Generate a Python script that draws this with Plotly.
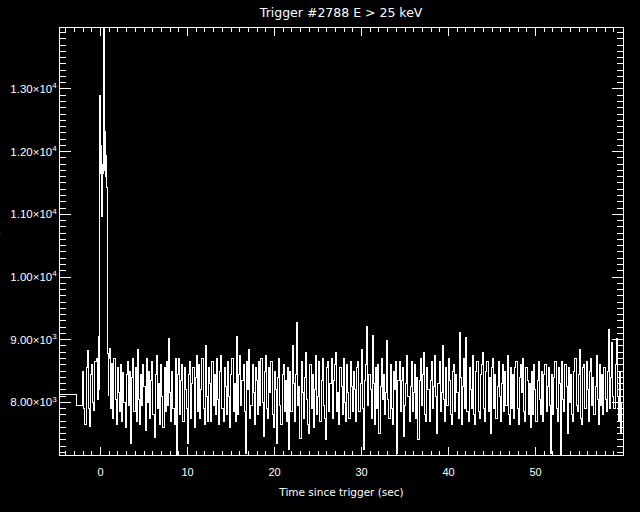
import numpy as np
import plotly.graph_objects as go

# --- data ---
title_text = "Trigger #2788 E > 25 keV"
x_title = "Time since trigger (sec)"
y_title = "Counts/sec"

# pre-trigger coarse bins (start times, counts)
pre_times = [-4.9, -2.8]
pre_counts = [8128, 7952]

# 0.128 s bins before the burst (start at -2.048 s)
prebin_counts = [8490, 7900, 7640, 8550, 8830, 7900, 7610, 8450, 8600, 8000, 7870, 8650, 8700, 8050]

# 64 ms bins covering the burst (start at -0.256 s)
burst_counts = [8300, 9050, 8200, 12900, 11650, 12100, 10960, 11800, 11650, 12000,
                13970, 11700, 12316, 11600, 11944, 11426, 10032, 8786, 8116, 8700]

# 0.128 s bins after the burst (start at 1.024 s)
post_counts = [
    8860, 7900, 8620, 7750, 8700, 8050, 7650, 8550, 8150, 7850, 8600, 7700, 8480, 8000, 7600, 8450, 8650, 7950, 8500, 7340,
    8400, 8700, 7850, 8560, 7700, 8850, 8050, 7650, 8450, 7950, 8600, 8250, 7550, 8700, 8000, 8500, 7750, 8350, 8650, 7800,
    7440, 8450, 8750, 7900, 8300, 7650, 8600, 8100, 7600, 8550, 7850, 8650, 7950, 9020, 8150, 7700, 8500, 7900, 7650, 8700,
    7160, 8450, 8700, 7800, 8350, 8600, 7700, 8550, 8200, 7900, 7350, 8450, 8650, 7750, 8300, 8550, 7600, 8400, 8750, 7850,
    8600, 7750, 8200, 8700, 7900, 7650, 8900, 8100, 7700, 8560, 8300, 7700, 8650, 7950, 8450, 7800, 8700, 8050, 7650, 8500,
    8750, 7900, 7700, 8550, 8250, 7800, 8650, 8100, 7600, 8450, 8700, 7850, 8300, 7700, 9050, 7800, 8450, 8750, 7950, 8350,
    8600, 7850, 7180, 8650, 8200, 8850, 7750, 7950, 8600, 8150, 7650, 8550, 8350, 7800, 8650, 7950, 8700, 8000, 7450, 8500,
    8750, 7900, 7750, 8550, 8150, 8650, 7800, 7600, 8500, 8200, 7350, 8400, 8700, 7950, 7650, 8450, 8600, 7850, 8350, 7700,
    8550, 7240, 8500, 7850, 8900, 8300, 7700, 8450, 9282, 7950, 8250, 7420, 8650, 8150, 7750, 8400, 8800, 8050, 7650, 7500,
    8600, 7900, 8450, 7600, 8200, 8750, 7800, 8100, 8650, 7700, 8350, 8700, 7950, 7750, 7400, 8550, 8650, 7850, 8300, 8700,
    7750, 8350, 8600, 8800, 7850, 8150, 7650, 8550, 8250, 7800, 8700, 8000, 7700, 8600, 8150, 7750, 8650, 8250, 7850, 8500,
    8200, 7700, 8550, 8650, 7850, 8300, 8850, 7900, 7240, 8350, 8600, 9217, 7950, 8450, 8200, 7750, 9070, 8300, 7650, 8550,
    7900, 8600, 7500, 8250, 8700, 8050, 8450, 7800, 8150, 8990, 8050, 7750, 8600, 7900, 7650, 8500, 8200, 8650, 7190, 8350,
    8650, 7850, 8350, 8550, 7450, 7950, 8300, 8750, 8100, 7700, 8250, 8650, 7850, 8150, 8600, 7750, 8400, 7400, 8350, 8700,
    7950, 8450, 8800, 7800, 7700, 8550, 8200, 7700, 8350, 8650, 7900, 8250, 8750, 8100, 7500, 8300, 8650, 7850, 8150, 8900,
    8050, 7700, 8550, 7950, 8700, 8350, 7800, 7650, 8500, 8600, 7850, 8450, 8150, 7750, 9120, 8400, 7650, 8250, 8700, 7900,
    9030, 7850, 7700, 8550, 8200, 7900, 8750, 7800, 7650, 8500, 8650, 7850, 7750, 8450, 8600, 8800, 7900, 7700, 8500, 8650,
    7850, 8400, 7500, 8550, 8700, 7900, 8450, 7750, 8250, 8650, 8100, 7700, 8300, 8600, 7850, 8500, 7950, 8750, 7800, 7650,
    8550, 7900, 8450, 7750, 8550, 8650, 7900, 7650, 8400, 8600, 8150, 8700, 7850, 7700, 8550, 8350, 7800, 8300, 7600, 8500,
    7800, 8600, 8200, 7700, 8350, 8650, 8050, 7800, 8500, 7700, 8450, 8600, 7850, 8250, 8550, 7950, 7190, 8450, 7800, 8400,
    8650, 7900, 7700, 8550, 8300, 7160, 8650, 8050, 7850, 8600, 8250, 7500, 8550, 8000, 8450, 7800, 7700, 8500, 8700, 7950,
    7850, 8450, 8850, 7750, 7650, 8550, 8600, 7900, 8650, 8200, 7700, 8500, 8700, 7950, 8400, 7800, 8250, 8750, 8050, 7650,
    8600, 7950, 8450, 7800, 8550, 8050, 7850, 8500, 9160, 7900, 8400, 8950, 8100, 7900, 8600, 9025, 8100, 7700, 8500, 7500,
    8000,
]

x_tick_vals = [0, 10, 20, 30, 40, 50]
y_tick_vals = [8000, 9000, 10000, 11000, 12000, 13000]
y_tick_text = ["8.00×10<sup>3</sup>", "9.00×10<sup>3</sup>", "1.00×10<sup>4</sup>",
               "1.10×10<sup>4</sup>", "1.20×10<sup>4</sup>", "1.30×10<sup>4</sup>"]
x_range = [-4.66, 60.05]
y_range = [7160, 13973]

# --- assemble bin start times ---
prebin_times = list(-2.048 + 0.128 * np.arange(len(prebin_counts)))
burst_times = list(-0.256 + 0.064 * np.arange(len(burst_counts)))
post_times = list(1.024 + 0.128 * np.arange(len(post_counts)))

t = pre_times + prebin_times + burst_times + post_times
c = pre_counts + prebin_counts + burst_counts + post_counts
t.append(post_times[-1] + 0.128)
c.append(post_counts[-1])

FONT = "DejaVu Sans"
TICKFONT = "Liberation Sans"

fig = go.Figure()
fig.add_trace(go.Scatter(x=t, y=c, mode="lines", line=dict(color="white", width=1, shape="hv"),
                         showlegend=False, hoverinfo="skip"))

fig.update_layout(
    width=640, height=512,
    paper_bgcolor="black", plot_bgcolor="black",
    margin=dict(l=60, r=17, t=28, b=57, autoexpand=False),
    font=dict(family=FONT, color="white", size=11),
    title=dict(text=title_text, x=0.533, xanchor="center", y=0.975, yanchor="middle",
               font=dict(family=FONT, size=12.5, color="white")),
)
fig.update_xaxes(
    range=x_range, showgrid=False, zeroline=False, automargin=False,
    showline=True, linecolor="white", linewidth=1, mirror="allticks",
    ticks="inside", ticklen=8, tickwidth=1, tickcolor="white",
    tickvals=x_tick_vals, ticktext=[str(v) for v in x_tick_vals],
    tickfont=dict(family=TICKFONT, size=11, color="white"), ticklabelstandoff=7,
    minor=dict(dtick=1, tick0=0, ticks="inside", ticklen=4, tickcolor="white", showgrid=False),
    title=dict(text=x_title, font=dict(family=FONT, size=10.5, color="white"), standoff=11),
)
fig.update_yaxes(
    range=y_range, showgrid=False, zeroline=False, automargin=False,
    showline=True, linecolor="white", linewidth=1, mirror="allticks",
    ticks="inside", ticklen=11, tickwidth=1, tickcolor="white",
    tickvals=y_tick_vals, ticktext=y_tick_text,
    tickfont=dict(family=TICKFONT, size=11.5, color="white"),
    minor=dict(dtick=100, tick0=0, ticks="inside", ticklen=6, tickcolor="white", showgrid=False),
)
fig.add_annotation(text=y_title, xref="paper", yref="paper", x=-0.1137, y=0.5,
                   textangle=-90, showarrow=False, xanchor="center", yanchor="middle",
                   font=dict(family=FONT, size=11, color="white"))

post_js = ("document.body.style.margin='0';"
           "document.body.style.overflow='hidden';"
           "document.querySelectorAll('.scatterlayer path').forEach(p=>p.setAttribute('shape-rendering','crispEdges'));")
fig.write_html("out.html", post_script=post_js, config=dict(displayModeBar=False))
